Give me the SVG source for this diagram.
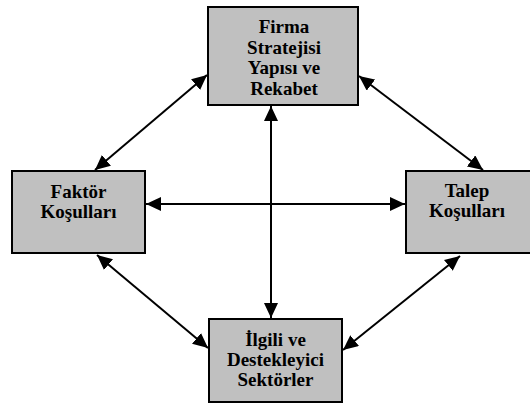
<svg xmlns="http://www.w3.org/2000/svg" width="530" height="408" viewBox="0 0 530 408">
<defs>
<style>
.box{fill:#c0c0c0;stroke:#000;stroke-width:2}
.t{font-family:"Liberation Serif","Times New Roman",serif;font-weight:bold;font-size:19px;fill:#000;text-anchor:middle}
.c{stroke:#000;stroke-width:2;fill:none;marker-start:url(#ah);marker-end:url(#ah)}
</style>
<marker id="ah" markerUnits="userSpaceOnUse" markerWidth="15" markerHeight="14" refX="15" refY="7" orient="auto-start-reverse" viewBox="0 0 15 14">
<path d="M0,0 L15,7 L0,14 z" fill="#000"/>
</marker>
</defs>
<g id="connectors">
<line class="c" x1="271" y1="106" x2="271" y2="318"/>
<line class="c" x1="146" y1="204" x2="405" y2="204"/>
<line class="c" x1="95" y1="170" x2="207" y2="75"/>
<line class="c" x1="359" y1="76" x2="483" y2="170"/>
<line class="c" x1="97" y1="255" x2="208" y2="348"/>
<line class="c" x1="460" y1="256" x2="343" y2="350"/>
</g>
<g id="firma">
<rect class="box" x="208" y="7" width="150" height="98"/>
<text class="t" x="284" y="33">Firma</text>
<text class="t" x="284" y="54">Stratejisi</text>
<text class="t" x="284" y="74">Yapısı ve</text>
<text class="t" x="284" y="95">Rekabet</text>
</g>
<g id="faktor">
<rect class="box" x="12" y="171" width="133" height="82"/>
<text class="t" x="78.5" y="198">Faktör</text>
<text class="t" x="78.5" y="218">Koşulları</text>
</g>
<g id="talep">
<rect class="box" x="406" y="171" width="128" height="82"/>
<text class="t" x="467" y="197">Talep</text>
<text class="t" x="467" y="217">Koşulları</text>
</g>
<g id="ilgili">
<rect class="box" x="209" y="319" width="133" height="83"/>
<text class="t" x="275.5" y="346">İlgili ve</text>
<text class="t" x="275.5" y="366">Destekleyici</text>
<text class="t" x="275.5" y="386">Sektörler</text>
</g>
</svg>
